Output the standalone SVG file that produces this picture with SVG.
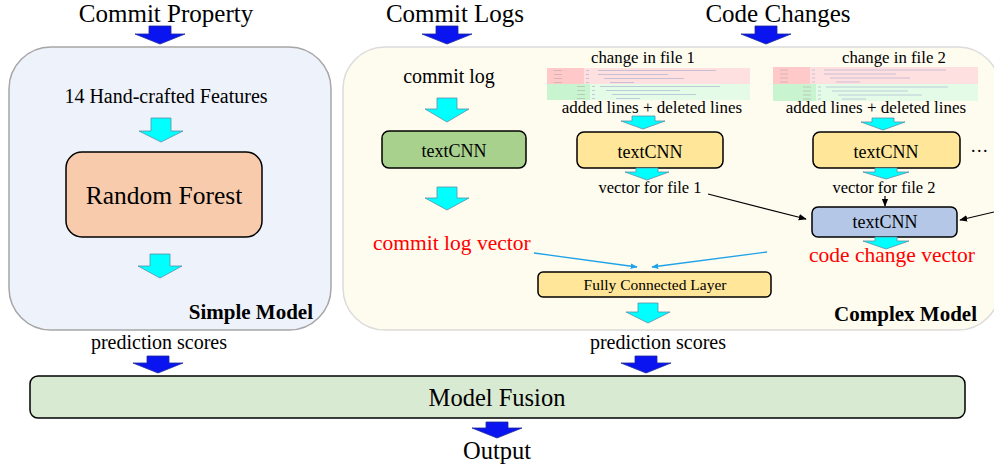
<svg xmlns="http://www.w3.org/2000/svg" width="994" height="468" viewBox="0 0 994 468">
<defs>
<style>
text{font-family:"Liberation Serif","Times New Roman",serif;fill:#000}
.t{font-size:25px}
.c{text-anchor:middle}
.ba{fill:#0a14f0;stroke:#1c2a9a;stroke-width:0.8}
.ca{fill:#00ffff;stroke:#5a8fa8;stroke-width:0.8}
.box{stroke:#000;stroke-width:1.5}
.red{fill:#ff0000;font-size:21.5px}
.bl{stroke:#1ea2e8;stroke-width:1.3;fill:none}
.kl{stroke:#000;stroke-width:1.2;fill:none}
.code{stroke:#9aa0cc;stroke-width:0.7;opacity:0.75}
.num{stroke:#b0a0a0;stroke-width:0.7;opacity:0.7}
</style>
<marker id="mb" viewBox="0 0 10 10" refX="9" refY="5" markerWidth="7" markerHeight="7" orient="auto" markerUnits="userSpaceOnUse"><path d="M0,1 L10,5 L0,9 z" fill="#1ea2e8"/></marker>
<marker id="mk" viewBox="0 0 10 10" refX="9" refY="5" markerWidth="8" markerHeight="8" orient="auto" markerUnits="userSpaceOnUse"><path d="M0,1 L10,5 L0,9 z" fill="#000"/></marker>
</defs>
<rect width="994" height="468" fill="#fff"/>

<g id="titles">
<text class="t c" x="166" y="22">Commit Property</text>
<text class="t c" x="455" y="22">Commit Logs</text>
<text class="t c" x="778" y="22">Code Changes</text>
</g>

<g id="simple-model">
<rect x="9" y="47" width="322" height="283" rx="42" fill="#eef2fa" stroke="#a6a6a6" stroke-width="1.5"/>
<text class="c" x="166" y="103" font-size="20">14 Hand-crafted Features</text>
<text x="313" y="319" font-size="21" font-weight="bold" text-anchor="end">Simple Model</text>
</g>

<g id="complex-model">
<rect x="343" y="47" width="657" height="283" rx="42" fill="#fefbef" stroke="#dcdcdc" stroke-width="1.5"/>
<text x="977" y="321" font-size="21" font-weight="bold" text-anchor="end">Complex Model</text>
</g>

<g id="random-forest">
<rect class="box" x="66" y="152" width="196" height="85" rx="16" fill="#f8cbad"/>
<text class="c" x="164" y="204" font-size="25.5">Random Forest</text>
</g>

<g id="commit-log">
<text class="c" x="449" y="83" font-size="20">commit log</text>
</g>

<g id="textcnn-log">
<rect class="box" x="382" y="131" width="144" height="37" rx="7" fill="#a9d18e"/>
<text class="c" x="454" y="157" font-size="18">textCNN</text>
</g>

<g id="commit-log-vector">
<text class="red" x="373" y="250">commit log vector</text>
</g>

<g id="file1">
<text class="c" x="643" y="63" font-size="16.8">change in file 1</text>
<rect x="547" y="68" width="203" height="16" fill="#ffe0e0"/>
<rect x="547" y="68" width="37" height="16" fill="#ffc9c9"/>
<rect x="547" y="84" width="203" height="16" fill="#e4fbe8"/>
<rect x="547" y="84" width="43" height="16" fill="#c8f5cf"/>
<path class="num" d="M554,70.5h8M554,74.5h8M554,78.5h8M554,82.5h8M577,86.5h8M577,90.5h8M577,94.5h8M577,98.5h8"/>
<path class="code" d="M586,70.5h3M586,74.5h3M586,78.5h3M586,82.5h3M592,86.5h3M592,90.5h3M592,94.5h3M592,98.5h3"/>
<path class="code" d="M598,70.5h118M598,74.5h70M604,78.5h80M610,82.5h24M600,86.5h120M606,90.5h74M612,94.5h84M616,98.5h24"/>
<text class="c" x="652" y="113" font-size="17">added lines + deleted lines</text>
</g>

<g id="textcnn-file1">
<rect class="box" x="577" y="132" width="146" height="36" rx="7" fill="#ffe699"/>
<text class="c" x="650" y="158" font-size="18">textCNN</text>
<text class="c" x="650" y="193" font-size="16.5">vector for file 1</text>
</g>

<g id="file2">
<text class="c" x="894" y="63" font-size="16.8">change in file 2</text>
<rect x="773" y="67" width="205" height="17" fill="#ffe0e0"/>
<rect x="773" y="67" width="37" height="17" fill="#ffc9c9"/>
<rect x="773" y="84" width="205" height="17" fill="#e4fbe8"/>
<rect x="773" y="84" width="43" height="17" fill="#c8f5cf"/>
<path class="num" d="M780,70h8M780,74h8M780,78h8M780,82h8M803,87h8M803,91h8M803,95h8M803,99h8"/>
<path class="code" d="M812,70h3M812,74h3M812,78h3M812,82h3M818,87h3M818,91h3M818,95h3M818,99h3"/>
<path class="code" d="M824,70h122M824,74h72M830,78h80M836,82h24M826,87h122M832,91h76M838,95h84M842,99h24"/>
<text class="c" x="876" y="113" font-size="17">added lines + deleted lines</text>
</g>

<g id="textcnn-file2">
<rect class="box" x="813" y="132" width="147" height="36" rx="7" fill="#ffe699"/>
<text class="c" x="886" y="158" font-size="18">textCNN</text>
<text class="c" x="884" y="193" font-size="16.5">vector for file 2</text>
<text x="971" y="152" font-size="18" letter-spacing="1.5">...</text>
</g>

<g id="textcnn-code">
<rect class="box" x="812" y="207" width="145" height="30" rx="6" fill="#b4c7e7"/>
<text class="c" x="885" y="228" font-size="18">textCNN</text>
</g>

<g id="code-change-vector">
<text class="red" x="809" y="262">code change vector</text>
</g>

<g id="fully-connected">
<rect class="box" x="538" y="272" width="233" height="25" rx="5" fill="#ffe699"/>
<text class="c" x="655" y="290" font-size="15.5">Fully Connected Layer</text>
</g>

<g id="prediction-scores">
<text class="c" x="159" y="349" font-size="20">prediction scores</text>
<text class="c" x="658" y="349" font-size="20">prediction scores</text>
</g>

<g id="model-fusion">
<rect class="box" x="30" y="376" width="935" height="42" rx="8" fill="#d9ead3" stroke-width="1.3"/>
<text class="c" x="497" y="406" font-size="24.5">Model Fusion</text>
</g>

<g id="output">
<text class="c" x="497" y="459" font-size="24.5">Output</text>
</g>

<g id="connectors">
<polygon class="ba" points="149,26 171,26 171,34 185,34 160,44 135,34 149,34"/>
<polygon class="ba" points="436,26 458,26 458,34 472,34 447,44 422,34 436,34"/>
<polygon class="ba" points="755,26 777,26 777,34 791,34 766,44 741,34 755,34"/>
<polygon class="ba" points="147,356 169,356 169,363 183,363 158,373 133,363 147,363"/>
<polygon class="ba" points="635,356 657,356 657,363 671,363 646,373 621,363 635,363"/>
<polygon class="ba" points="486,422 508,422 508,428 522,428 497,438 472,428 486,428"/>

<polygon class="ca" points="151,118 171,118 171,131 183,131 161,142 139,131 151,131"/>
<polygon class="ca" points="150,254 170,254 170,266 182,266 160,278 138,266 150,266"/>
<polygon class="ca" points="437,98 457,98 457,109 469,109 447,122 425,109 437,109"/>
<polygon class="ca" points="437,187 457,187 457,198 469,198 447,210 425,198 437,198"/>
<polygon class="ca" points="632,116 655,116 655,121 665,121 643,129 621,121 632,121"/>
<polygon class="ca" points="872,118 894,118 894,122 905,122 883,130 861,122 872,122"/>
<polygon class="ca" points="636,168 658,168 658,172 669,172 647,180 625,172 636,172"/>
<polygon class="ca" points="875,168 897,168 897,172 909,172 886,179 863,172 875,172"/>
<polygon class="ca" points="875,237 897,237 897,241 909,241 886,249 863,241 875,241"/>
<polygon class="ca" points="638,303 658,303 658,312 670,312 648,323 626,312 638,312"/>

<line class="bl" x1="534" y1="253" x2="637" y2="267" marker-end="url(#mb)"/>
<line class="bl" x1="767" y1="252" x2="652" y2="267" marker-end="url(#mb)"/>
<line class="kl" x1="708" y1="194" x2="806" y2="219" marker-end="url(#mk)"/>
<line class="kl" x1="994" y1="212" x2="960" y2="220" marker-end="url(#mk)"/>
<line class="kl" x1="885" y1="196" x2="885" y2="206" marker-end="url(#mk)"/>
</g>
</svg>
